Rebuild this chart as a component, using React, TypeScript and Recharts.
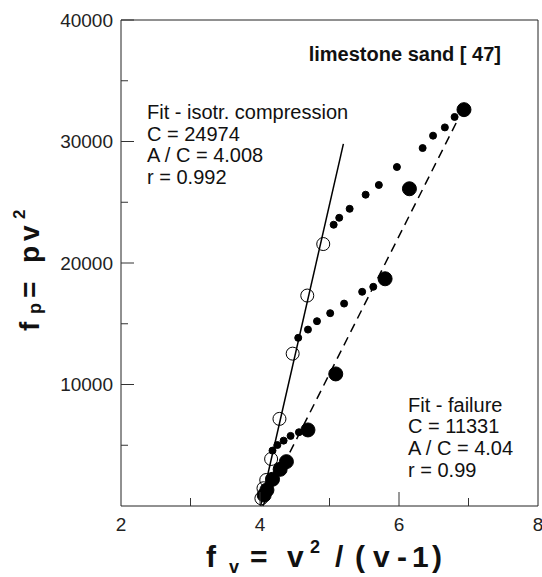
import { ScatterChart, Scatter, XAxis, YAxis, ReferenceLine, Customized } from "recharts";

// isotropic compression tests (open circles)
const compX = [4.02, 4.05, 4.09, 4.16, 4.28, 4.47, 4.68, 4.91];
const compY = [630, 1460, 2140, 3870, 7170, 12540, 17320, 21560];

// failure points (large filled circles)
const failX = [4.06, 4.1, 4.18, 4.29, 4.38, 4.69, 5.09, 5.8, 6.15, 6.935];
const failY = [900, 1320, 2200, 3020, 3650, 6260, 10870, 18700, 26110, 32620];

// stress path points (small dots)
const pathX = [4.18, 4.25, 4.34, 4.44, 4.56, 4.55, 4.69, 4.82, 5.01, 5.21, 5.47, 5.63, 5.06, 5.14, 5.29, 5.52, 5.71, 5.97, 6.34, 6.49, 6.66, 6.8];
const pathY = [4560, 5020, 5380, 5770, 6070, 13840, 14520, 15210, 15870, 16660, 17630, 18040, 23150, 23720, 24460, 25620, 26420, 27900, 29460, 30480, 31160, 32020];

// fit line end points
const compFitX = [4.008, 5.2];
const compFitY = [0, 29800];
const failFitX = [4.04, 6.85];
const failFitY = [0, 31840];

const xTicks = [2, 3, 4, 5, 6, 7, 8];
const yTicks = [0, 5000, 10000, 15000, 20000, 25000, 30000, 35000, 40000];

const compLabel = ["Fit - isotr. compression", "C = 24974", "A / C = 4.008", "r = 0.992"];
const failLabel = ["Fit - failure", "C = 11331", "A / C = 4.04", "r = 0.99"];

const font = "'Liberation Sans', Arial, Helvetica, sans-serif";

const pts = (xs: number[], ys: number[]) => xs.map((x, i) => ({ x, y: ys[i] }));

const XTick = (props: any) => {
  const { x, y, payload } = props;
  const v = payload.value;
  const major = v % 2 === 0;
  return (
    <g>
      {v > 2 && v < 8 && <line x1={x} x2={x} y1={y} y2={y - (major ? 14 : 8)} stroke="#333" />}
      {major && (
        <text x={x} y={y + 25} textAnchor="middle" fontSize={19} fontFamily={font} fill="#222">
          {v}
        </text>
      )}
    </g>
  );
};

const YTick = (props: any) => {
  const { x, y, payload } = props;
  const v = payload.value;
  if (v === 0) return <g />;
  const major = v % 10000 === 0;
  return (
    <g>
      <line x1={x} x2={x + (major ? 13 : 7)} y1={y} y2={y} stroke="#333" />
      {major && (
        <text x={x - 8} y={y} dy="0.36em" textAnchor="end" fontSize={19} fontFamily={font} fill="#222">
          {v}
        </text>
      )}
    </g>
  );
};

const Dot = (r: number, filled: boolean) => (props: any) => (
  <circle cx={props.cx} cy={props.cy} r={r} fill={filled ? "#000" : "none"} stroke="#000" strokeWidth={1} />
);

const Annotations = () => (
  <g fontFamily={font} fill="#111">
    <text x={501} y={61} textAnchor="end" fontSize={20} fontWeight="bold">
      limestone sand [ 47]
    </text>
    {compLabel.map((t, i) => (
      <text key={t} x={147} y={119 + i * 21.7} fontSize={20}>
        {t}
      </text>
    ))}
    {failLabel.map((t, i) => (
      <text key={t} x={408} y={411.5 + i * 21.7} fontSize={20}>
        {t}
      </text>
    ))}
    <text fontWeight="bold" fontSize={30}>
      <tspan x={206} y={567}>f</tspan>
      <tspan x={229} y={573} fontSize={18}>v</tspan>
      <tspan x={250} y={567}>=</tspan>
      <tspan x={287} y={567}>v</tspan>
      <tspan x={310} y={553} fontSize={18}>2</tspan>
      <tspan x={335} y={567}>/</tspan>
      <tspan x={355} y={567}>(</tspan>
      <tspan x={373} y={567}>v</tspan>
      <tspan x={397} y={567}>-</tspan>
      <tspan x={412} y={567}>1</tspan>
      <tspan x={432} y={567}>)</tspan>
    </text>
    <text fontWeight="bold" fontSize={28} transform="rotate(-90)">
      <tspan x={-331} y={39}>f</tspan>
      <tspan x={-314} y={41} fontSize={18}>p</tspan>
      <tspan x={-298} y={39}>=</tspan>
      <tspan x={-263} y={39}>p</tspan>
      <tspan x={-241} y={39}>v</tspan>
      <tspan x={-219} y={25} fontSize={17}>2</tspan>
    </text>
  </g>
);

export default function App() {
  return (
    <div style={{ position: "absolute", left: 0, top: 0, background: "#fff" }}>
      <ScatterChart width={542} height={577} margin={{ top: 20, right: 4, bottom: 31, left: 61 }}>
        <XAxis
          type="number"
          dataKey="x"
          domain={[2, 8]}
          ticks={xTicks}
          interval={0}
          tick={<XTick />}
          tickLine={false}
          tickSize={0}
          tickMargin={0}
          height={40}
          axisLine={{ stroke: "#222" }}
        />
        <YAxis
          type="number"
          dataKey="y"
          domain={[0, 40000]}
          ticks={yTicks}
          interval={0}
          tick={<YTick />}
          tickLine={false}
          tickSize={0}
          tickMargin={0}
          width={60}
          axisLine={{ stroke: "#222" }}
        />
        <ReferenceLine y={40000} stroke="#222" />
        <ReferenceLine x={8} stroke="#222" />
        <Scatter data={pts(compFitX, compFitY)} line={{ stroke: "#000", strokeWidth: 1.5 }} shape={() => <g />} isAnimationActive={false} />
        <Scatter
          data={pts(failFitX, failFitY)}
          line={{ stroke: "#000", strokeWidth: 1.5, strokeDasharray: "9 6" }}
          shape={() => <g />}
          isAnimationActive={false}
        />
        <Scatter data={pts(compX, compY)} shape={Dot(6.5, false)} isAnimationActive={false} />
        <Scatter data={pts(pathX, pathY)} shape={Dot(3.5, true)} isAnimationActive={false} />
        <Scatter data={pts(failX, failY)} shape={Dot(7, true)} isAnimationActive={false} />
        <Customized component={Annotations} />
      </ScatterChart>
    </div>
  );
}
